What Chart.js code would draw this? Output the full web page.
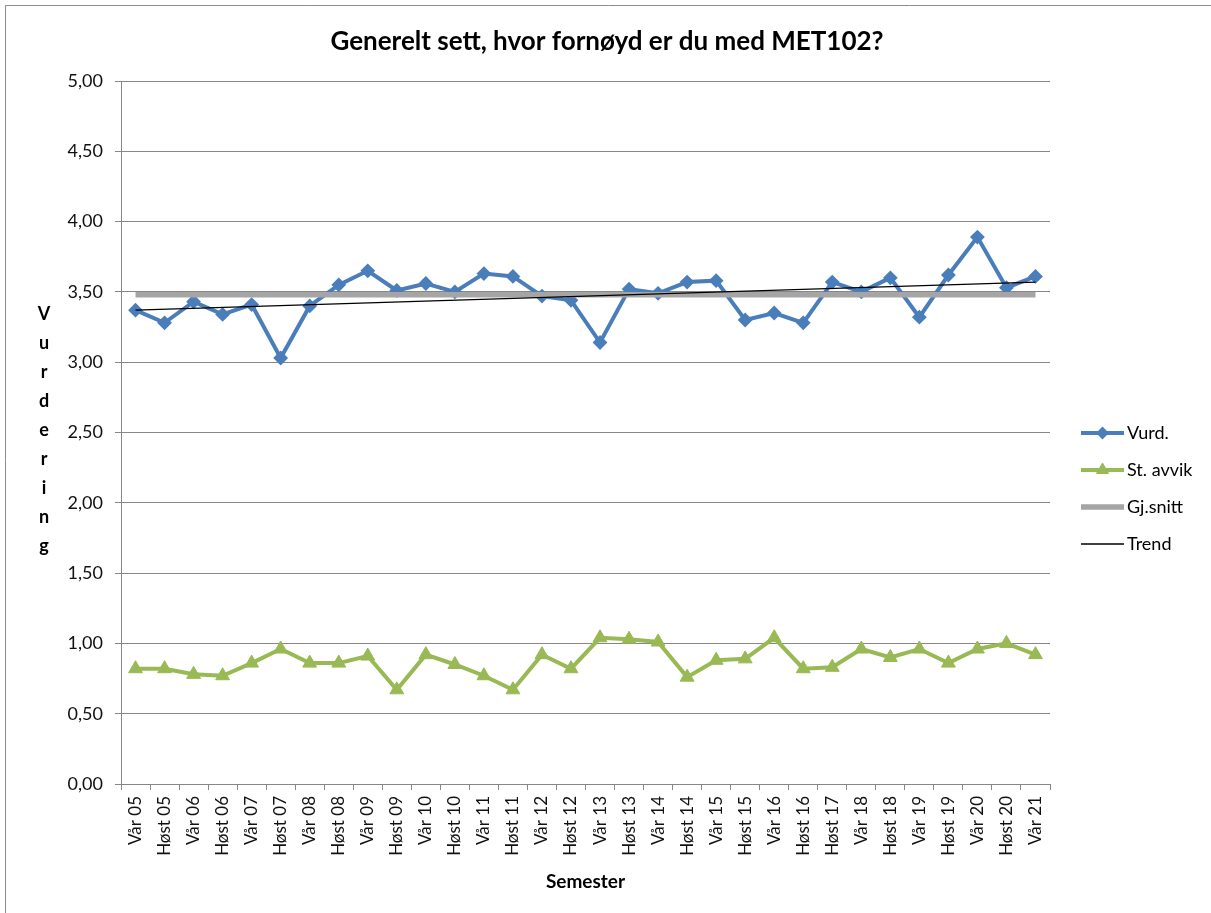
<!DOCTYPE html>
<html>
<head>
<meta charset="utf-8">
<script src="https://cdn.jsdelivr.net/npm/chart.js@4"></script>
<style>
  html, body { margin: 0; padding: 0; background: #fff; overflow: hidden; }
  #wrap { position: absolute; left: 0; top: 0; width: 1211px; height: 913px; }
</style>
</head>
<body>
<div id="wrap"><canvas id="c" width="1211" height="913"></canvas></div>
<script>
const chartTitle = 'Generelt sett, hvor fornøyd er du med MET102?';
const xTitle = 'Semester';
const yTitle = 'Vurdering';
const categories = ['Vår 05','Høst 05','Vår 06','Høst 06','Vår 07','Høst 07','Vår 08','Høst 08',
  'Vår 09','Høst 09','Vår 10','Høst 10','Vår 11','Høst 11','Vår 12','Høst 12','Vår 13','Høst 13',
  'Vår 14','Høst 14','Vår 15','Høst 15','Vår 16','Høst 16','Høst 17','Vår 18','Høst 18','Vår 19',
  'Høst 19','Vår 20','Høst 20','Vår 21'];
const vurd = [3.37,3.28,3.43,3.34,3.41,3.03,3.40,3.55,3.65,3.51,3.56,3.50,3.63,3.61,3.47,3.44,
  3.14,3.52,3.49,3.57,3.58,3.30,3.35,3.28,3.57,3.50,3.60,3.32,3.62,3.89,3.53,3.61];
const stAvvik = [0.82,0.82,0.78,0.77,0.86,0.96,0.86,0.86,0.91,0.67,0.92,0.85,0.77,0.67,0.92,0.82,
  1.04,1.03,1.01,0.76,0.88,0.89,1.04,0.82,0.83,0.96,0.90,0.96,0.86,0.96,1.00,0.92];
const gjSnitt = [3.48, 3.48];   // first and last category
const trend = [3.37, 3.57];     // first and last category
const yTicks = [0,0.5,1,1.5,2,2.5,3,3.5,4,4.5,5];

const FONT = 'Lato, "Open Sans", sans-serif';
const GRID = '#878787';
const endpoints = (pair) => categories.map((c, i) => i === 0 ? pair[0] : (i === categories.length - 1 ? pair[1] : null));

const decorPlugin = {
  id: 'decor',
  afterDraw(chart) {
    const ctx = chart.ctx;
    const ca = chart.chartArea;
    ctx.save();
    // outer border
    ctx.strokeStyle = '#8c8c8c';
    ctx.lineWidth = 1;
    ctx.beginPath();
    ctx.moveTo(5.5, 913); ctx.lineTo(5.5, 5.5); ctx.lineTo(1211, 5.5);
    ctx.stroke();
    // title
    ctx.fillStyle = '#000';
    ctx.font = 'bold 26px ' + FONT;
    ctx.textAlign = 'center';
    ctx.textBaseline = 'middle';
    ctx.fillText(chartTitle, 607, 42);
    // x title
    ctx.font = 'bold 19px ' + FONT;
    ctx.fillText(xTitle, (ca.left + ca.right) / 2, 882);
    // y title stacked letters
    ctx.font = 'bold 18px ' + FONT;
    ctx.textBaseline = 'alphabetic';
    const letters = yTitle.split('');
    letters.forEach((ch, i) => ctx.fillText(ch, 44, 320 + i * 29));
    // legend
    const x0 = 1081, len = 43, rows = [433, 470, 507, 544];
    chart.data.datasets.forEach((ds, i) => {
      const y = rows[i];
      ctx.strokeStyle = ds.borderColor;
      ctx.lineWidth = ds.borderWidth;
      ctx.beginPath();
      ctx.moveTo(x0, y); ctx.lineTo(x0 + len, y);
      ctx.stroke();
      if (ds.pointStyle && ds.pointRadius > 0) {
        ctx.fillStyle = ds.pointBackgroundColor;
        ctx.strokeStyle = ds.pointBorderColor;
        ctx.lineWidth = ds.pointBorderWidth;
        Chart.helpers.drawPoint(ctx, { pointStyle: ds.pointStyle, radius: ds.pointRadius - 1, borderWidth: ds.pointBorderWidth, rotation: 0 }, x0 + len / 2, y);
      }
      ctx.fillStyle = '#000';
      ctx.font = '18px ' + FONT;
      ctx.textAlign = 'left';
      ctx.textBaseline = 'middle';
      ctx.fillText(ds.label, x0 + len + 3, y);
    });
    ctx.restore();
  }
};

new Chart(document.getElementById('c'), {
  type: 'line',
  data: {
    labels: categories,
    datasets: [
      { label: 'Vurd.', data: vurd, borderColor: '#4A7EBB', backgroundColor: '#4A7EBB',
        borderWidth: 4, pointStyle: 'rectRot', pointRadius: 6, pointBackgroundColor: '#4A7EBB',
        pointBorderColor: '#4A7EBB', pointBorderWidth: 2, tension: 0, order: 4 },
      { label: 'St. avvik', data: stAvvik, borderColor: '#98B954', backgroundColor: '#98B954',
        borderWidth: 4, pointStyle: 'triangle', pointRadius: 8, pointBackgroundColor: '#98B954',
        pointBorderColor: '#98B954', pointBorderWidth: 1, tension: 0, order: 5 },
      { label: 'Gj.snitt', data: endpoints(gjSnitt), borderColor: '#A5A5A5', backgroundColor: '#A5A5A5',
        borderWidth: 5.5, pointRadius: 0, spanGaps: true, tension: 0, order: 2 },
      { label: 'Trend', data: endpoints(trend), borderColor: '#000000', backgroundColor: '#000000',
        borderWidth: 1.3, pointRadius: 0, spanGaps: true, tension: 0, order: 1 }
    ]
  },
  options: {
    responsive: false,
    animation: false,
    events: [],
    layout: { padding: { left: 0, top: 81, right: 161, bottom: 0 } },
    plugins: { legend: { display: false }, title: { display: false }, tooltip: { enabled: false } },
    scales: {
      x: {
        offset: true,
        grid: { display: true, drawOnChartArea: false, drawTicks: true, tickLength: 6, offset: true, color: GRID },
        border: { display: true, color: GRID, width: 1 },
        ticks: { minRotation: 90, maxRotation: 90, autoSkip: false, padding: 6, color: '#111',
          font: { family: FONT, size: 17 } },
        afterFit(scale) { scale.height = 129; }
      },
      y: {
        min: 0, max: 5,
        afterBuildTicks(scale) { scale.ticks = yTicks.map(v => ({ value: v })); },
        grid: { color: GRID, lineWidth: 1, tickLength: 6, drawTicks: true },
        border: { display: true, color: GRID, width: 1 },
        ticks: { padding: 12, color: '#111', font: { family: FONT, size: 18 },
          callback: (v) => Number(v).toFixed(2).replace('.', ',') },
        afterFit(scale) { scale.width = 121; }
      }
    }
  },
  plugins: [decorPlugin]
});
</script>
</body>
</html>
